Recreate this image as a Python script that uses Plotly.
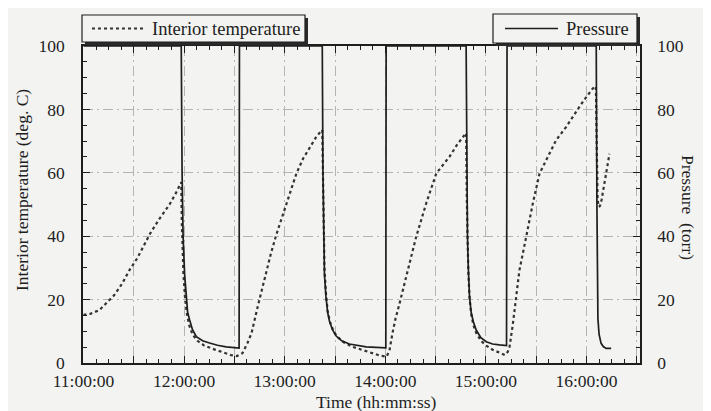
import plotly.graph_objects as go

# ---- data (time in minutes after 11:00:00) ----
hour_labels = ["11:00:00", "12:00:00", "13:00:00", "14:00:00", "15:00:00", "16:00:00"]
hour_minutes = [0, 60, 120, 180, 240, 300]
tick_minutes = list(range(0, 331, 30))
y_ticks = [0, 20, 40, 60, 80, 100]

temp_min = [0, 4, 9.5, 14, 18.5, 23, 27.4, 32, 36.4, 39.8, 45.3, 51.3, 55, 58.3,
            58.6, 59.0, 59.6, 60.5, 61.5, 63, 65, 68, 72, 78, 84, 88, 91.5,
            94.8, 97.8, 100.2, 104, 108, 112, 115, 119, 123, 127, 131, 135, 139, 142.4,
            142.8, 143.2, 143.7, 144.6, 145.6, 147, 149, 151, 155, 160, 166, 172, 177, 180.8,
            182.5, 184.3, 186.1, 188.5, 193.4, 198.4, 204.4, 210.4, 218.3, 223, 227.2, 228.2,
            228.6, 229.0, 229.5, 230.2, 231.2, 232.5, 234.2, 237, 240.2, 244, 248, 251.3,
            253, 254.1, 256, 258.1, 260, 264.1, 268, 272, 276, 281.9, 287.9, 291.8, 297.8, 303.7, 305.6,
            306.2, 306.6, 307.2, 308, 309, 310.7, 312.2, 313.7]
temp_val = [15.2, 15.5, 16.7, 19, 21.5, 25, 29.3, 33, 37.2, 40.9, 45.5, 50, 53.5, 57,
            45, 35, 28, 21, 16, 12, 9, 7, 5.5, 4.3, 3.3, 2.5, 2.2,
            3.1, 6.3, 9.4, 18, 27, 35, 40.5, 47, 54, 59.8, 64.5, 68.2, 71.5, 73.5,
            55, 42, 30, 22, 16.5, 13, 10.2, 8.5, 6.6, 5.2, 4.1, 3.0, 2.3, 2.0,
            4, 9.5, 14, 18.8, 29.3, 39.8, 50.4, 59.8, 65.1, 69, 71.9, 72.5,
            52, 38, 29, 21, 15.5, 12, 9.5, 7, 5.5, 4.2, 3.2, 2.5,
            3.5, 5.1, 12, 21, 29.3, 40, 50.4, 59.8, 64, 70.3, 74.5, 77.7, 82.4, 86.6, 87.3,
            65, 52, 49.3, 49.5, 51.5, 56.7, 61, 66]

pres_min = [0, 58.3,
            58.3, 58.8, 59.4, 60.3, 61.3, 62.1, 63.3, 65.0, 67.3, 71.0, 75.2, 79.9, 85.1, 92.8,
            93.0, 142.4,
            142.4, 142.8, 143.2, 143.7, 144.6, 145.6, 146.7, 148.5, 150.7, 154, 158.6, 163, 168.6, 180.3,
            180.5, 228.2,
            228.2, 228.6, 229.0, 229.5, 230.2, 231.2, 232.5, 234.2, 237, 240.2, 244, 248.1, 252.3,
            252.6, 305.8,
            305.8, 306.2, 306.5, 306.8, 307.5, 308.7, 310, 311.7, 314.7]
pres_val = [100, 100,
            100, 60, 40, 28, 21, 16, 13.6, 10.5, 8.3, 7, 6.3, 5.6, 5.1, 4.7,
            100, 100,
            100, 60, 40, 28, 21, 16, 13.2, 10.5, 8.5, 7, 6, 5.5, 5.1, 4.8,
            100, 100,
            100, 60, 40, 30, 21, 16, 13, 10.4, 8, 6.7, 6, 5.7, 5.5,
            100, 100,
            100, 50, 25, 14, 9, 6.2, 5.2, 4.6, 4.6]

# ---- layout geometry (page has an 8px body margin) ----
OFF = 8
W, H = 703, 403
ML, MR, MT, MB = 75, 71, 38, 48
PW, PH = W - ML - MR, H - MT - MB


def fx(px):
    return (px - OFF - ML) / PW


def fy(py):
    return (H - MB - (py - OFF)) / PH


FONT = "Liberation Serif"
BG = "#f3f3f1"
INK = "#1e1e1e"
GRID = "#b4b4b4"
TICKFONT = dict(family=FONT, size=17.5, color=INK)

fig = go.Figure()
fig.add_trace(go.Scatter(x=temp_min, y=temp_val, mode="lines", name="Interior temperature",
                         line=dict(color="#333333", width=2.2, dash="dot"), showlegend=False))
fig.add_trace(go.Scatter(x=pres_min, y=pres_val, mode="lines", name="Pressure", yaxis="y2",
                         line=dict(color=INK, width=1.7), showlegend=False))

tick_text = [hour_labels[hour_minutes.index(m)] if m in hour_minutes else "" for m in tick_minutes]

fig.update_layout(
    width=W, height=H,
    margin=dict(l=ML, r=MR, t=MT, b=MB),
    paper_bgcolor=BG, plot_bgcolor=BG,
    font=dict(family=FONT, size=17.5, color=INK),
    xaxis=dict(range=[-0.3, 331.9], tickmode="array", tickvals=tick_minutes, ticktext=tick_text,
               tickfont=TICKFONT,
               ticks="inside", ticklen=7, tickwidth=1, tickcolor=INK, mirror="ticks",
               showline=True, linecolor=INK, linewidth=1.5, zeroline=False,
               showgrid=True, gridcolor=GRID, gridwidth=1, griddash="10px,4px,2px,4px",
               minor=dict(dtick=7.5, tick0=0, ticks="inside", ticklen=4, tickcolor=INK, showgrid=False),
               ticklabelstandoff=1, fixedrange=True),
    yaxis=dict(range=[0, 100], tickmode="array", tickvals=y_ticks, tickfont=TICKFONT,
               ticks="inside", ticklen=7, tickcolor=INK, showline=True, linecolor=INK, linewidth=1.5,
               zeroline=False, showgrid=True, gridcolor=GRID, gridwidth=1, griddash="10px,4px,2px,4px",
               minor=dict(dtick=5, tick0=0, ticks="inside", ticklen=4, tickcolor=INK, showgrid=False),
               ticklabelstandoff=13),
    yaxis2=dict(range=[0, 100], overlaying="y", side="right", tickmode="array", tickvals=y_ticks,
                tickfont=TICKFONT,
                ticks="inside", ticklen=7, tickcolor=INK, showline=True, linecolor=INK, linewidth=1.5,
                zeroline=False, showgrid=False,
                minor=dict(dtick=5, tick0=0, ticks="inside", ticklen=4, tickcolor=INK, showgrid=False),
                ticklabelstandoff=12),
    showlegend=False,
)

shapes = []
# legend boxes with drop shadows (page pixel coordinates)
for (x0, x1, y0, y1) in [(82, 305, 15, 42), (493, 637, 14, 43)]:
    shapes.append(dict(type="rect", xref="paper", yref="paper", x0=fx(x0 + 3), x1=fx(x1 + 3),
                       y0=fy(y1 + 3), y1=fy(y0 + 3), fillcolor="#2a2a2a", line=dict(width=0)))
    shapes.append(dict(type="rect", xref="paper", yref="paper", x0=fx(x0), x1=fx(x1),
                       y0=fy(y1), y1=fy(y0), fillcolor=BG, line=dict(color=INK, width=1.2)))
shapes.append(dict(type="line", xref="paper", yref="paper", x0=fx(92), x1=fx(145), y0=fy(28.5), y1=fy(28.5),
                   line=dict(color="#333333", width=2.2, dash="dot")))
shapes.append(dict(type="line", xref="paper", yref="paper", x0=fx(505), x1=fx(558), y0=fy(28.5), y1=fy(28.5),
                   line=dict(color=INK, width=1.5)))
fig.update_layout(shapes=shapes)

ann = [
    dict(text="Interior temperature", x=fx(150), y=fy(29), xanchor="left", yanchor="middle", size=18.5),
    dict(text="Pressure", x=fx(564), y=fy(29), xanchor="left", yanchor="middle", size=18.5),
    dict(text="Interior temperature (deg. C)", x=fx(22), y=fy(190), xanchor="center", yanchor="middle",
         textangle=-90, size=17.5),
    dict(text="Pressure\u00a0 (torr)", x=fx(688), y=fy(207), xanchor="center", yanchor="middle",
         textangle=90, size=17.5),
    dict(text="Time (hh:mm:ss)", x=fx(376), y=fy(402), xanchor="center", yanchor="middle", size=17.5),
]
for a in ann:
    sz = a.pop("size")
    a.update(xref="paper", yref="paper", showarrow=False, font=dict(family=FONT, size=sz, color=INK))
fig.update_layout(annotations=ann)

fig.write_html("out.html")
